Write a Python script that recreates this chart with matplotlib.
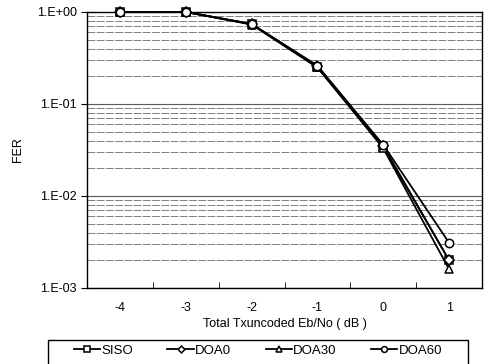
import matplotlib.pyplot as plt
from matplotlib.patches import Rectangle
from matplotlib.ticker import FixedLocator, NullFormatter
import numpy as np

plt.rcParams['font.family'] = ['Liberation Sans', 'DejaVu Sans']

ebno = ['-4', '-3', '-2', '-1', '0', '1']
siso = [1.0, 1.0, 0.74, 0.25, 0.034, 0.0020]
doa0 = [1.0, 1.0, 0.74, 0.26, 0.035, 0.0020]
doa30 = [1.0, 1.0, 0.73, 0.25, 0.033, 0.0016]
doa60 = [1.0, 1.0, 0.74, 0.26, 0.036, 0.0031]

series = [('SISO', siso, 's'), ('DOA0', doa0, 'D'),
          ('DOA30', doa30, '^'), ('DOA60', doa60, 'o')]

fig = plt.figure(figsize=(4.88, 3.64), dpi=100)
ax = fig.add_axes([87 / 488, 1 - 288 / 364, 395 / 488, 276 / 364])

x = np.arange(len(ebno))
for name, vals, m in series:
    ax.plot(x, vals, color='black', lw=1.3, marker=m, markersize=6 if m != 'D' else 5,
            markerfacecolor='white', markeredgecolor='black', markeredgewidth=1.1,
            label=name, clip_on=False, zorder=3)

ax.set_yscale('log')
ax.set_ylim(1e-3, 1.0)
ax.set_xlim(-0.5, len(ebno) - 0.5)
ax.set_xticks(x)
ax.set_xticklabels(ebno)
ax.xaxis.set_minor_locator(FixedLocator(np.arange(-0.5, len(ebno), 1.0)))
ax.tick_params(axis='x', which='major', length=0, pad=10)
ax.tick_params(axis='x', which='minor', length=4, direction='in')
ax.tick_params(axis='y', which='major', length=4, direction='out')
ax.tick_params(axis='y', which='minor', length=0)
ax.yaxis.set_minor_formatter(NullFormatter())
ax.set_yticks([1e-3, 1e-2, 1e-1, 1.0])
ax.set_yticklabels(['1.E-03', '1.E-02', '1.E-01', '1.E+00'])
ax.tick_params(labelsize=9)

ax.grid(True, axis='y', which='major', color='0.35', lw=0.8)
ax.grid(True, axis='y', which='minor', color='0.5', lw=0.7, ls=(0, (8, 1.5)))
for s in ax.spines.values():
    s.set_linewidth(1.0)
    s.set_color('black')

ax.set_xlabel('Total Txuncoded Eb/No ( dB )', fontsize=9, labelpad=3)
ax.set_ylabel('FER', fontsize=9, labelpad=9)

# legend box (runs off the bottom edge like the original)
top = 1 - 340 / 364
fig.patches.append(Rectangle((48 / 488, top - 40 / 364), 420 / 488, 40 / 364,
                             transform=fig.transFigure, fill=False,
                             edgecolor='black', linewidth=1.0))
leg = fig.legend(loc='upper center', ncol=4, bbox_to_anchor=(258 / 488, top),
                 frameon=False, fontsize=9.5, borderaxespad=0, columnspacing=2.6,
                 handlelength=2.0, borderpad=0.35, handletextpad=0.1, markerscale=0.7)

fig.savefig('out.png', dpi=100)
